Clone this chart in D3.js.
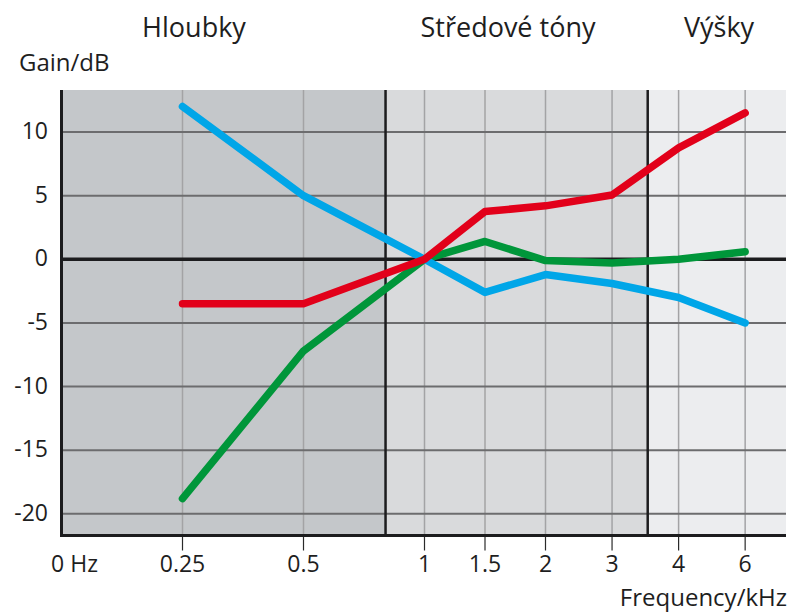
<!DOCTYPE html>
<html>
<head>
<meta charset="utf-8">
<script src="https://cdn.jsdelivr.net/npm/d3@7"></script>
<style>
  html, body { margin: 0; padding: 0; background: #fff; }
  svg { display: block; }
  text { font-family: "Open Sans", "Noto Sans", sans-serif; fill: #1e1e1e; }
</style>
</head>
<body>
<svg id="chart" width="794" height="613"></svg>
<script>
// ---- data ----
const frequencies = [0.25, 0.5, 1, 1.5, 2, 3, 4, 6];           // kHz
const tickLabels  = ["0.25", "0.5", "1", "1.5", "2", "3", "4", "6"];
const originLabel = "0 Hz";
const yTicks      = [10, 5, 0, -5, -10, -15, -20];
const blueGain    = [12.0, 5.0, 0, -2.6, -1.2, -1.9, -3.0, -5.0];
const redGain     = [-3.5, -3.5, 0, 3.75, 4.2, 5.05, 8.75, 11.5];
const greenGain   = [-18.8, -7.2, 0, 1.4, -0.1, -0.3, 0.0, 0.6];
const zoneNames   = ["Hloubky", "Středové tóny", "Výšky"];
const zoneEdges   = [0.8, 3.5];                                  // kHz boundaries
const yTitle      = "Gain/dB";
const xTitle      = "Frequency/kHz";

// ---- layout ----
const W = 794, H = 613;
const plotLeft = 61.5, plotRight = 786, plotTop = 90, plotBottom = 535.5;
// uneven axis: grid slot units for each frequency (axis is not strictly logarithmic)
const slotUnits = [2, 4, 6, 7, 8, 9.1, 10.2, 11.3];
const slotWidth = 60.5;
const zoneLabelX = [194, 508, 719];
const zoneColors = ["#c4c7ca", "#d9dadc", "#ecedef"];

const svg = d3.select("#chart");

const slotScale = d3.scaleLinear()
  .domain(frequencies.map(Math.log2))
  .range(slotUnits);
const pixScale = d3.scaleLinear().domain([0, 1]).range([plotLeft, plotLeft + slotWidth]);
const x = f => pixScale(slotScale(Math.log2(f)));
const y = d3.scaleLinear().domain([-21.7, 13.3]).range([plotBottom, plotTop]);

// zone backgrounds
const zoneBounds = [plotLeft, ...zoneEdges.map(x), plotRight];
svg.append("g").selectAll("rect")
  .data(zoneNames)
  .join("rect")
  .attr("x", (d, i) => zoneBounds[i])
  .attr("y", plotTop)
  .attr("width", (d, i) => zoneBounds[i + 1] - zoneBounds[i])
  .attr("height", plotBottom - plotTop)
  .attr("fill", (d, i) => zoneColors[i]);

// vertical grid + ticks
const vg = svg.append("g");
vg.selectAll("line.vgrid")
  .data(frequencies)
  .join("line")
  .attr("class", "vgrid")
  .attr("x1", d => x(d)).attr("x2", d => x(d))
  .attr("y1", plotTop).attr("y2", plotBottom)
  .attr("stroke", "#a3a3a5").attr("stroke-width", 1.5);
vg.selectAll("line.tick")
  .data(frequencies)
  .join("line")
  .attr("class", "tick")
  .attr("x1", d => x(d)).attr("x2", d => x(d))
  .attr("y1", plotBottom).attr("y2", plotBottom + 15)
  .attr("stroke", "#2a2a2a").attr("stroke-width", 1.2);

// horizontal grid
svg.append("g").selectAll("line")
  .data(yTicks.filter(v => v !== 0))
  .join("line")
  .attr("x1", plotLeft).attr("x2", plotRight)
  .attr("y1", d => y(d)).attr("y2", d => y(d))
  .attr("stroke", "#6c6c6e").attr("stroke-width", 2);

// zero line
svg.append("line")
  .attr("x1", plotLeft).attr("x2", plotRight)
  .attr("y1", y(0)).attr("y2", y(0))
  .attr("stroke", "#1c1c1e").attr("stroke-width", 3.5);

// zone boundaries
svg.append("g").selectAll("line")
  .data(zoneEdges)
  .join("line")
  .attr("x1", d => x(d)).attr("x2", d => x(d))
  .attr("y1", plotTop).attr("y2", plotBottom)
  .attr("stroke", "#1c1c1e").attr("stroke-width", 2.5);

// axes
svg.append("line")
  .attr("x1", plotLeft).attr("x2", plotLeft)
  .attr("y1", plotTop).attr("y2", plotBottom + 1.5)
  .attr("stroke", "#1c1c1e").attr("stroke-width", 3);
svg.append("line")
  .attr("x1", plotLeft - 1.5).attr("x2", plotRight)
  .attr("y1", plotBottom).attr("y2", plotBottom)
  .attr("stroke", "#1c1c1e").attr("stroke-width", 3);

// series lines
const series = [
  { values: greenGain, color: "#00963a" },
  { values: blueGain,  color: "#00a6e8" },
  { values: redGain,   color: "#e2001a" }
];
const line = d3.line()
  .x((d, i) => x(frequencies[i]))
  .y(d => y(d));
svg.append("g").selectAll("path")
  .data(series)
  .join("path")
  .attr("d", d => line(d.values))
  .attr("fill", "none")
  .attr("stroke", d => d.color)
  .attr("stroke-width", 7.5)
  .attr("stroke-linecap", "round")
  .attr("stroke-linejoin", "round");

// y tick labels
svg.append("g").selectAll("text")
  .data(yTicks)
  .join("text")
  .attr("x", 48)
  .attr("y", d => y(d) + 7)
  .attr("text-anchor", "end")
  .attr("font-size", 23)
  .text(d => d);

// x tick labels
svg.append("g").selectAll("text")
  .data(frequencies)
  .join("text")
  .attr("x", d => x(d))
  .attr("y", 572)
  .attr("text-anchor", "middle")
  .attr("font-size", 23)
  .text((d, i) => tickLabels[i]);
svg.append("text")
  .attr("x", plotLeft + 13)
  .attr("y", 572)
  .attr("text-anchor", "middle")
  .attr("font-size", 23)
  .text(originLabel);

// titles
svg.append("text")
  .attr("x", 19).attr("y", 71)
  .attr("font-size", 24)
  .text(yTitle);
svg.append("text")
  .attr("x", 787).attr("y", 606)
  .attr("text-anchor", "end")
  .attr("font-size", 24)
  .text(xTitle);

// zone labels
svg.append("g").selectAll("text")
  .data(zoneNames)
  .join("text")
  .attr("x", (d, i) => zoneLabelX[i])
  .attr("y", 37)
  .attr("text-anchor", "middle")
  .attr("font-size", 27)
  .text(d => d);
</script>
</body>
</html>
